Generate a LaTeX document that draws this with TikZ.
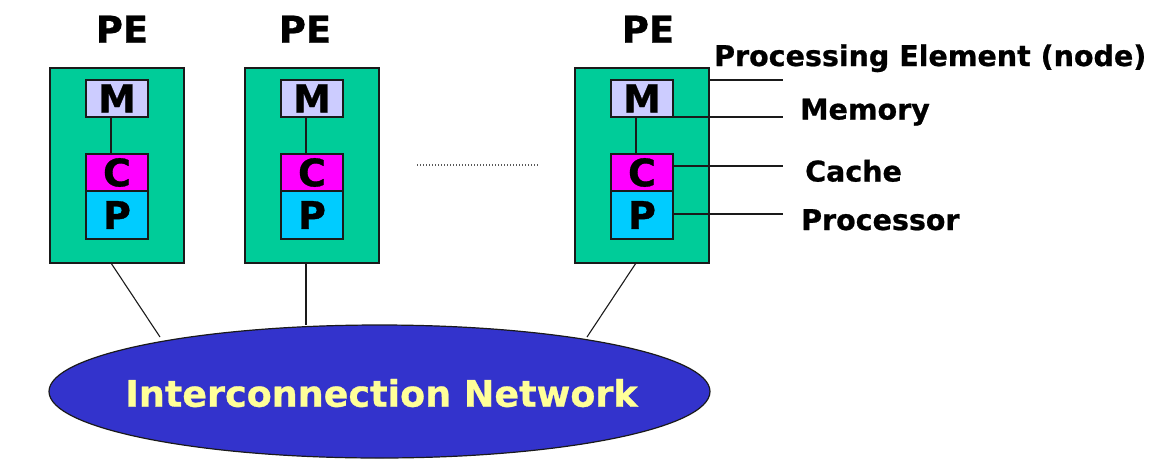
\documentclass[tikz,border=0pt]{standalone}
\usepackage{fontspec}
\setmainfont{DejaVu Sans}[BoldFeatures={FakeBold=0.8}]
\usetikzlibrary{shapes.geometric}
\definecolor{pegreen}{HTML}{00CC99}
\definecolor{memcol}{HTML}{CCCCFF}
\definecolor{cachecol}{HTML}{FF00FF}
\definecolor{proccol}{HTML}{00CCFF}
\definecolor{netblue}{HTML}{3333CC}
\definecolor{netyellow}{HTML}{FFFF99}
\definecolor{edge}{HTML}{1A1A1A}
\begin{document}
\begin{tikzpicture}[x=1pt,y=-1pt,
  pebox/.style={draw=edge, line width=1.3pt, fill=pegreen, minimum width=134pt, minimum height=195pt, inner sep=0pt, outer sep=0pt, anchor=north west},
  unit/.style={draw=edge, line width=1.3pt, minimum width=62pt, inner sep=0pt, outer sep=0pt, anchor=north west, font=\fontsize{38}{40}\selectfont\bfseries},
  membox/.style={unit, fill=memcol, minimum height=37pt},
  cachebox/.style={unit, fill=cachecol, minimum height=37pt},
  procbox/.style={unit, fill=proccol, minimum height=48pt},
  petitle/.style={anchor=base, inner sep=0pt, font=\fontsize{37}{40}\selectfont\bfseries},
  legend/.style={anchor=base west, inner sep=0pt, font=\fontsize{28.5}{32}\selectfont\bfseries},
  wire/.style={draw=edge, line width=1.1pt},
]
\useasboundingbox (0,0) rectangle (1176,461);

% PE titles
\node[petitle] (t1) at (122,42.7) {PE};
\node[petitle] (t2) at (305,42.7) {PE};
\node[petitle] (t3) at (648,42.7) {PE};

% PE boxes
\foreach \i/\x in {1/50, 2/245, 3/575}{
  \node[pebox] (pe\i) at (\x,68) {};
  \node[membox] (m\i) at ([xshift=36pt]pe\i.north west |- 0,80) {M};
  \node[cachebox] (c\i) at ([xshift=36pt]pe\i.north west |- 0,154) {C};
  \node[procbox] (p\i) at ([xshift=36pt]pe\i.north west |- 0,191) {P};
  \draw[wire] ([xshift=-6pt]m\i.south) -- ([xshift=-6pt]c\i.north);
}

% dotted ellipsis
\coordinate (d1) at (417,165);
\coordinate (d2) at (538,165);
\draw[draw=gray!70!black, line width=1.2pt, dash pattern=on 1.2pt off 1.8pt] (d1) -- (d2);

% network
\node[ellipse, draw=edge, line width=1.2pt, fill=netblue, minimum width=661pt, minimum height=133pt, inner sep=0pt] (net) at (379.5,391.5) {};
\node[anchor=base, inner sep=0pt, text=netyellow, font=\fontsize{36.5}{40}\selectfont\bfseries] (netlabel) at (381.5,406.7) {Interconnection Network};

\coordinate (e1) at (160,337);
\coordinate (e2) at (306,325);
\coordinate (e3) at (587,337);
\draw[wire] ([xshift=-6pt]pe1.south) -- (e1);
\draw[wire] ([xshift=-6pt]pe2.south) -- (e2);
\draw[wire] ([xshift=-6pt]pe3.south) -- (e3);

% legend
\node[legend] (lpe) at (714,66) {Processing Element (node)};
\node[legend] (lm) at (800,119.5) {Memory};
\node[legend] (lc) at (805,181.5) {Cache};
\node[legend] (lp) at (801,230) {Processor};

\coordinate (a0) at (783,80);
\coordinate (a1) at (783,117);
\coordinate (a2) at (783,166);
\coordinate (a3) at (783,214);
\draw[wire] (pe3.east |- a0) -- (a0);
\draw[wire] (m3.south east) -- (a1);
\draw[wire] (c3.east |- a2) -- (a2);
\draw[wire] (p3.east |- a3) -- (a3);
\end{tikzpicture}
\end{document}
